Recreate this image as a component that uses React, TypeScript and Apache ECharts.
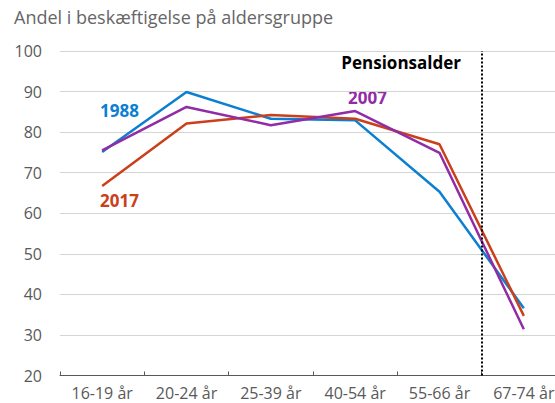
import React, { useEffect, useRef } from "react";
import * as echarts from "echarts";

const categories = ["16-19 år", "20-24 år", "25-39 år", "40-54 år", "55-66 år", "67-74 år"];
const yTicks = [20, 100, 10]; // min, max, interval
const series1988 = [75.1, 89.9, 83.3, 82.9, 65.3, 36.6];
const series2007 = [75.5, 86.2, 81.7, 85.2, 74.9, 31.4];
const series2017 = [66.7, 82.1, 84.2, 83.3, 77.0, 34.7];
const pensionBoundary = 4.5; // between 55-66 and 67-74

const FONT = "'Open Sans', 'Noto Sans', sans-serif";

export default function App() {
  const ref = useRef<HTMLDivElement>(null);
  useEffect(() => {
    if (!ref.current) return;
    const chart = echarts.init(ref.current, undefined, { renderer: "svg" });
    const mk = (name: string, data: number[], color: string) => ({
      name,
      type: "line",
      data,
      xAxisIndex: 0,
      symbol: "none",
      lineStyle: { color, width: 2.5 },
      itemStyle: { color },
      z: 3,
    });
    chart.setOption({
      animation: false,
      textStyle: { fontFamily: FONT },
      grid: { left: 60, width: 506, top: 51, height: 324.5, containLabel: false },
      xAxis: [
        {
          type: "category",
          data: categories,
          boundaryGap: true,
          axisLine: { show: true, lineStyle: { color: "#595959", width: 1 } },
          axisTick: { show: true, inside: true, length: 4, lineStyle: { color: "#595959" } },
          axisLabel: { color: "#595959", fontSize: 16, margin: 9, fontFamily: FONT },
          splitLine: { show: false },
        },
        {
          type: "value",
          min: -0.5,
          max: 5.5,
          show: false,
        },
      ],
      yAxis: {
        type: "value",
        min: yTicks[0],
        max: yTicks[1],
        interval: yTicks[2],
        axisLine: { show: false },
        axisTick: { show: false },
        axisLabel: { color: "#595959", fontSize: 16, margin: 18, fontFamily: FONT },
        splitLine: { lineStyle: { color: "#d4d4d4", width: 1 } },
      },
      series: [
        mk("1988", series1988, "#0b7fd1"),
        mk("2017", series2017, "#c9401b"),
        mk("2007", series2007, "#922ba6"),
        {
          name: "pension",
          type: "line",
          xAxisIndex: 1,
          data: [],
          symbol: "none",
          markLine: {
            silent: true,
            symbol: "none",
            label: { show: false },
            lineStyle: { color: "#000", type: [2, 2], width: 2 },
            data: [{ xAxis: pensionBoundary }],
          },
        },
      ],
      graphic: [
        {
          type: "text",
          left: 14,
          top: 8,
          style: { text: "Andel i beskæftigelse på aldersgruppe", fill: "#666666", font: `18px ${FONT}` },
        },
        {
          type: "text",
          x: 100,
          y: 110,
          style: { text: "1988", fill: "#0b7fd1", font: `bold 17px ${FONT}`, verticalAlign: "middle" },
        },
        {
          type: "text",
          x: 100,
          y: 200,
          style: { text: "2017", fill: "#c9401b", font: `bold 17px ${FONT}`, verticalAlign: "middle" },
        },
        {
          type: "text",
          x: 348,
          y: 97,
          style: { text: "2007", fill: "#922ba6", font: `bold 17px ${FONT}`, verticalAlign: "middle" },
        },
        {
          type: "text",
          x: 461,
          y: 62,
          style: {
            text: "Pensionsalder",
            fill: "#000",
            font: `bold 17px ${FONT}`,
            align: "right",
            verticalAlign: "middle",
          },
        },
      ],
    });
    return () => chart.dispose();
  }, []);
  return (
    <div style={{ width: 555, height: 403, position: "absolute", left: 0, top: 0, overflow: "hidden" }}>
      <div ref={ref} style={{ width: 570, height: 403 }} />
    </div>
  );
}
